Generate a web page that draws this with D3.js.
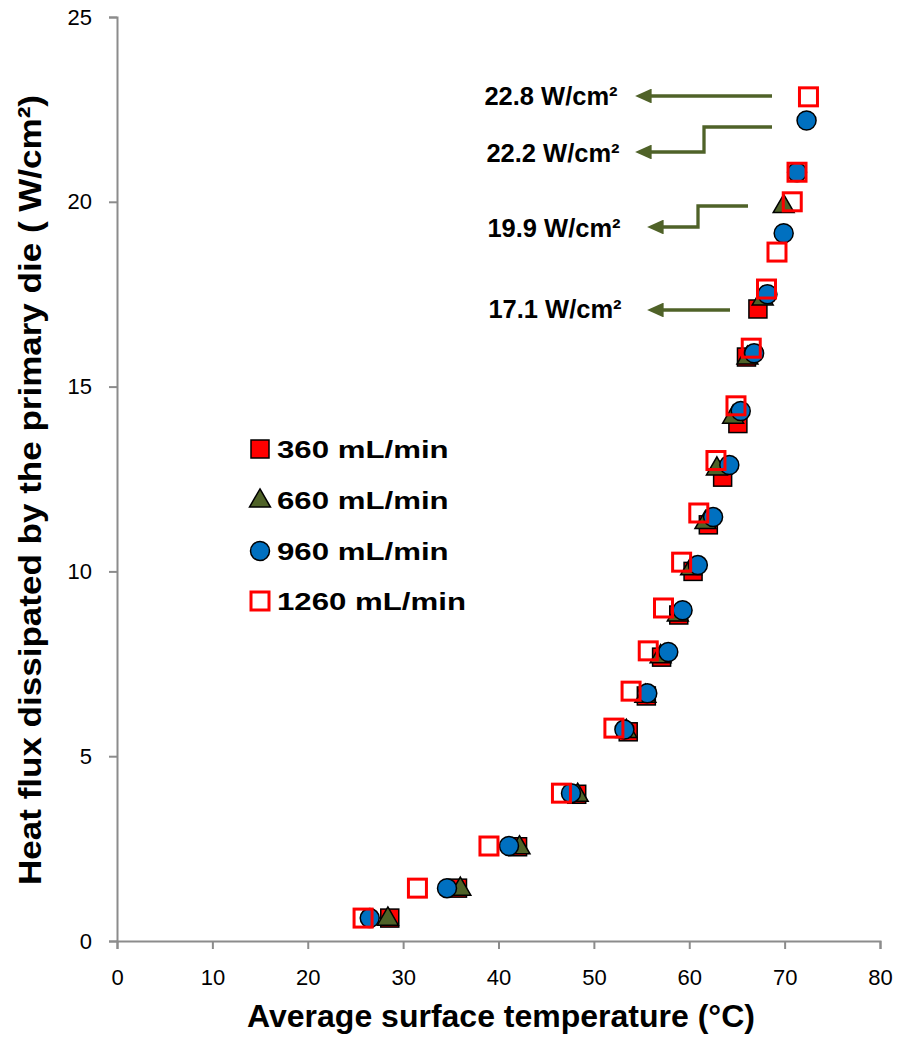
<!DOCTYPE html>
<html>
<head>
<meta charset="utf-8">
<script src="https://cdn.jsdelivr.net/npm/d3@7"></script>
<style>
  body { margin: 0; background: #fff; }
  text { font-family: "Liberation Sans", Arial, sans-serif; }
</style>
</head>
<body>
<script>
// data: [temperature °C, heat flux W/cm²]
var flow360 = [[28.6,0.62],[35.7,1.43],[42.0,2.55],[48.2,3.97],[53.6,5.66],[55.5,6.63],[57.1,7.68],
  [58.9,8.82],[60.4,10.0],[62.0,11.26],[63.5,12.55],[65.1,14.0],[66.0,15.8],[67.2,17.1]];
var flow660 = [[28.4,0.62],[36.0,1.43],[42.2,2.55],[48.3,3.97],[53.4,5.7],[55.4,6.65],[57.0,7.72],
  [58.8,8.85],[60.2,10.1],[61.7,11.35],[62.9,12.8],[64.6,14.2],[66.1,15.8],[67.7,17.4],[69.9,19.9]];
var flow960 = [[26.5,0.62],[34.6,1.43],[41.1,2.57],[47.6,4.0],[53.2,5.72],[55.6,6.7],[57.8,7.82],
  [59.3,8.95],[60.9,10.17],[62.5,11.47],[64.2,12.88],[65.4,14.34],[66.8,15.9],[68.2,17.5],
  [69.9,19.15],[71.3,20.8],[72.3,22.2]];
var flow1260 = [[25.8,0.62],[31.5,1.43],[39.0,2.57],[46.6,4.0],[52.1,5.76],[53.9,6.76],[55.7,7.85],
  [57.3,9.01],[59.2,10.25],[61.0,11.58],[62.8,13.0],[64.9,14.48],[66.5,16.04],[68.1,17.64],
  [69.2,18.64],[70.8,20.0],[71.3,20.8],[72.5,22.84]];
var seriesNames = ["360 mL/min", "660 mL/min", "960 mL/min", "1260 mL/min"];
var xTicks = [0,10,20,30,40,50,60,70,80];
var yTicks = [0,5,10,15,20,25];
var callouts = ["22.8 W/cm²", "22.2 W/cm²", "19.9 W/cm²", "17.1 W/cm²"];

var width = 905, height = 1042;
var svg = d3.select("body").append("svg")
    .attr("width", width).attr("height", height);

var x = d3.scaleLinear().domain([0, 80]).range([117, 880]);
var y = d3.scaleLinear().domain([0, 25]).range([941, 17]);

var green = "#4f6228";

// axes
var xAxis = svg.append("g").attr("transform", "translate(0,941)")
    .call(d3.axisBottom(x).tickValues(xTicks).tickSize(8).tickPadding(20));
var yAxis = svg.append("g").attr("transform", "translate(117,0)")
    .call(d3.axisLeft(y).tickValues(yTicks).tickSize(8).tickPadding(17));
[xAxis, yAxis].forEach(function(a) {
  a.select(".domain").attr("stroke", "#8c8c8c").attr("stroke-width", 2);
  a.selectAll(".tick line").attr("stroke", "#8c8c8c").attr("stroke-width", 2);
  a.selectAll(".tick text").attr("font-size", 22).attr("fill", "#000")
    .attr("font-family", "Open Sans, Liberation Sans, Arial, sans-serif");
});

// axis titles
svg.append("text").attr("x", 501).attr("y", 1027).attr("text-anchor", "middle")
  .attr("font-size", 32).attr("font-weight", "bold")
  .text("Average surface temperature (°C)");
svg.append("text").attr("transform", "translate(41,490) rotate(-90)")
  .attr("text-anchor", "middle").attr("font-size", 32).attr("font-weight", "bold")
  .attr("textLength", 790).attr("lengthAdjust", "spacingAndGlyphs")
  .text("Heat flux dissipated by the primary die ( W/cm²)");

// markers
function drawSquares(data, fill, stroke, sw) {
  svg.append("g").selectAll("rect").data(data).enter().append("rect")
    .attr("x", function(d) { return x(d[0]) - 9; })
    .attr("y", function(d) { return y(d[1]) - 9; })
    .attr("width", 18).attr("height", 18)
    .attr("fill", fill).attr("stroke", stroke).attr("stroke-width", sw);
}
var tri = d3.symbol().type(d3.symbolTriangle).size(190);
drawSquares(flow360, "#ff0000", "#000", 1.5);
svg.append("g").selectAll("path").data(flow660).enter().append("path")
  .attr("d", tri)
  .attr("transform", function(d) { return "translate(" + x(d[0]) + "," + (y(d[1]) + 1) + ")"; })
  .attr("fill", "#4f6228").attr("stroke", "#000").attr("stroke-width", 1.5);
svg.append("g").selectAll("circle").data(flow960).enter().append("circle")
  .attr("cx", function(d) { return x(d[0]); })
  .attr("cy", function(d) { return y(d[1]); })
  .attr("r", 9.5)
  .attr("fill", "#0070c0").attr("stroke", "#000").attr("stroke-width", 1.5);
drawSquares(flow1260, "none", "#ff0000", 3);

// legend (text is stretched wide in the original)
var leg = svg.append("g");
var legY = [449, 500, 551, 601];
leg.append("rect").attr("x", 251).attr("y", legY[0] - 9).attr("width", 18).attr("height", 18)
  .attr("fill", "#ff0000").attr("stroke", "#000").attr("stroke-width", 1.5);
leg.append("path").attr("d", tri).attr("transform", "translate(260," + (legY[1] + 1) + ")")
  .attr("fill", "#4f6228").attr("stroke", "#000").attr("stroke-width", 1.5);
leg.append("circle").attr("cx", 260).attr("cy", legY[2]).attr("r", 9.5)
  .attr("fill", "#0070c0").attr("stroke", "#000").attr("stroke-width", 1.5);
leg.append("rect").attr("x", 251).attr("y", legY[3] - 9).attr("width", 18).attr("height", 18)
  .attr("fill", "none").attr("stroke", "#ff0000").attr("stroke-width", 3);
seriesNames.forEach(function(n, i) {
  leg.append("text").attr("transform", "translate(277," + (legY[i] + 9) + ") scale(1.3,1)")
    .attr("font-size", 24).attr("font-weight", "bold").text(n);
});

// callout arrows
svg.append("defs").append("marker").attr("id", "ah")
  .attr("viewBox", "0 0 10 10").attr("refX", 1).attr("refY", 5)
  .attr("markerWidth", 5).attr("markerHeight", 4.5).attr("orient", "auto")
  .attr("preserveAspectRatio", "none")
  .append("path").attr("d", "M0,0 L10,5 L0,10 Z").attr("fill", green);

var paths = [
  [[772,96],[650,96]],
  [[772,127],[704,127],[704,152],[650,152]],
  [[748,206],[698,206],[698,227],[662,227]],
  [[730,310],[662,310]]
];
var line = d3.line();
paths.forEach(function(p) {
  svg.append("path").attr("d", line(p)).attr("fill", "none")
    .attr("stroke", green).attr("stroke-width", 3.3)
    .attr("marker-end", "url(#ah)");
});
var calloutX = [551, 553, 554, 555];
var calloutY = [105, 162, 237, 318];
callouts.forEach(function(c, i) {
  svg.append("text").attr("x", calloutX[i]).attr("y", calloutY[i]).attr("text-anchor", "middle")
    .attr("font-size", 25.5).attr("font-weight", "bold").text(c);
});
</script>
</body>
</html>
